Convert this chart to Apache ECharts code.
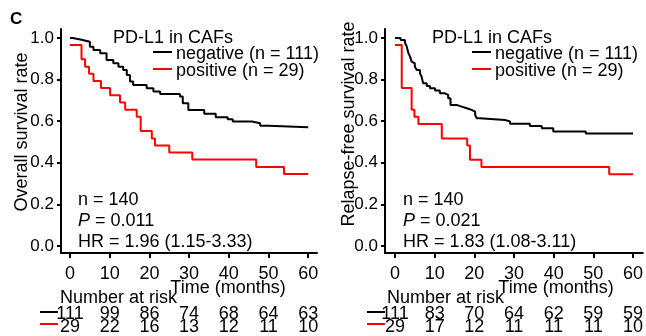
<!DOCTYPE html>
<html lang="en">
<head>
    <meta charset="utf-8" />
    <title>PD-L1 in CAFs KM</title>
    <script src="https://cdn.jsdelivr.net/npm/echarts@6/dist/echarts.min.js"></script>
    <style>
        html, body { margin: 0; padding: 0; background: #fff; }
        #chartmain { width: 646px; height: 336px; }
    </style>
</head>
<body>
<div id="chartmain"></div>
<script>
// time points shown on the x axis
var ticksX = [0, 10, 20, 30, 40, 50, 60];
var ticksY = [0, 0.2, 0.4, 0.6, 0.8, 1.0];

// overall survival, negative group [months, survival]
var osNeg = [[0,1.0],[0.7,0.991],[2.9,0.982],[5.0,0.958],[5.9,0.942],[7.6,0.926],[9.2,0.894],[10.9,0.878],
    [12.2,0.862],[13.4,0.846],[14.3,0.822],[15.1,0.79],[15.9,0.774],[19.3,0.758],[21.0,0.742],[22.7,0.731],
    [27.7,0.718],[28.4,0.686],[29.8,0.654],[33.8,0.635],[36.7,0.619],[39.7,0.609],[41.0,0.598],[45.8,0.59],
    [47.9,0.578],[50.0,0.571],[60,0.571]];
// overall survival, positive group
var osPos = [[0,0.966],[2.9,0.897],[3.8,0.862],[4.8,0.828],[5.9,0.793],[7.8,0.759],[10.1,0.724],[12.6,0.69],
    [13.9,0.655],[16.8,0.621],[17.8,0.552],[20.6,0.517],[21.4,0.483],[25.0,0.449],[30.8,0.415],[46.9,0.38],
    [53.9,0.346],[60,0.346]];
// relapse-free survival, negative group
var rfsNeg = [[0,1.0],[1.4,0.99],[2.5,0.977],[2.9,0.962],[3.4,0.926],[3.8,0.91],[4.2,0.886],[4.6,0.878],
    [5.0,0.862],[5.5,0.846],[6.3,0.83],[6.7,0.814],[7.1,0.782],[8.0,0.769],[8.8,0.758],[10.1,0.747],
    [11.3,0.734],[12.6,0.726],[13.4,0.71],[14.0,0.678],[15.5,0.67],[16.8,0.662],[18.1,0.654],[19.3,0.646],
    [20.2,0.63],[20.6,0.614],[21.4,0.606],[27.7,0.598],[29.0,0.587],[34.0,0.577],[37.0,0.566],[39.9,0.55],
    [48.1,0.54],[60,0.54]];
// relapse-free survival, positive group
var rfsPos = [[0,0.966],[1.7,0.759],[4.2,0.655],[4.9,0.621],[5.9,0.586],[11.8,0.517],[18.2,0.483],
    [18.9,0.414],[21.8,0.38],[54.0,0.345],[60,0.345]];

// number at risk tables
var osRiskNeg = [111, 99, 86, 74, 68, 64, 63];
var osRiskPos = [29, 22, 16, 13, 12, 11, 10];
var rfsRiskNeg = [111, 83, 70, 64, 62, 59, 59];
var rfsRiskPos = [29, 17, 12, 11, 11, 11, 10];

var FONT = 'Liberation Sans';
var panels = [
    { left: 61, width: 256, xmin: -2.27, xmax: 62.21, yname: 'Overall survival rate', nameX: 22.5, nameY: 132,
      neg: osNeg, pos: osPos, rNeg: osRiskNeg, rPos: osRiskPos, p: '0.011', hr: '1.96 (1.15-3.33)',
      lg: 0, an: 0, tm: 0, nr: 0 },
    { left: 385, width: 258, xmin: -2.52, xmax: 62.47, yname: 'Relapse-free survival rate', nameX: 349.5, nameY: 124,
      neg: rfsNeg, pos: rfsPos, rNeg: rfsRiskNeg, rPos: rfsRiskPos, p: '0.021', hr: '1.83 (1.08-3.11)',
      lg: 319, an: 325, tm: 328, nr: 327 }
];

function txt(x, y, s, extra) {
    var st = { x: x, y: y, text: s, fill: '#000', font: '18px "' + FONT + '"', textVerticalAlign: 'middle' };
    for (var k in extra) st[k] = extra[k];
    return { type: 'text', style: st, z: 10 };
}
function seg(x1, y1, x2, y2, c) {
    return { type: 'line', shape: { x1: x1, y1: y1, x2: x2, y2: y2 }, style: { stroke: c, lineWidth: 2 }, z: 10 };
}

var grids = [], xAxes = [], yAxes = [], series = [], graphics = [];
panels.forEach(function (pn, i) {
    grids.push({ left: pn.left, top: 29, width: pn.width, height: 224 });
    xAxes.push({
        gridIndex: i, type: 'value', min: pn.xmin, max: pn.xmax,
        axisLine: { onZero: false, lineStyle: { color: '#000', width: 2 } },
        axisTick: { customValues: ticksX, length: 5, lineStyle: { color: '#000', width: 2 } },
        axisLabel: { customValues: ticksX, color: '#000', fontSize: 18, fontFamily: FONT, margin: 12 },
        splitLine: { show: false }
    });
    [pn.rNeg, pn.rPos].forEach(function (arr, j) {
        xAxes.push({
            gridIndex: i, type: 'value', min: pn.xmin, max: pn.xmax, position: 'bottom', offset: 52 + j * 13,
            axisLine: { show: false }, axisTick: { show: false }, splitLine: { show: false },
            axisLabel: { customValues: ticksX, color: '#000', fontSize: 18, fontFamily: FONT, margin: 0,
                formatter: function (v) { return String(arr[ticksX.indexOf(v)]); } }
        });
    });
    yAxes.push({
        gridIndex: i, type: 'value', min: -0.034, max: 1.043,
        axisLine: { onZero: false, lineStyle: { color: '#000', width: 2 } },
        axisTick: { customValues: ticksY, length: 4, lineStyle: { color: '#000', width: 2 } },
        axisLabel: { customValues: ticksY, color: '#000', fontSize: 17, fontFamily: FONT, margin: 7,
            formatter: function (v) { return v.toFixed(1); } },
        splitLine: { show: false }
    });
    series.push({ type: 'line', xAxisIndex: i * 3, yAxisIndex: i, data: pn.neg, step: 'end', symbol: 'none',
        lineStyle: { color: '#000', width: 2 }, z: 3 });
    series.push({ type: 'line', xAxisIndex: i * 3, yAxisIndex: i, data: pn.pos, step: 'end', symbol: 'none',
        lineStyle: { color: '#ff0000', width: 2 }, z: 2 });

    graphics.push({ type: 'text', x: pn.nameX, y: pn.nameY, rotation: Math.PI / 2, z: 10,
        style: { text: pn.yname, fill: '#000', font: '18px "' + FONT + '"', textAlign: 'center', textVerticalAlign: 'middle' } });
    var d = pn.lg;
    graphics.push(txt(113 + d, 38, 'PD-L1 in CAFs'));
    graphics.push(seg(153 + d, 52, 172 + d, 52, '#000'));
    graphics.push(txt(176 + d, 54, 'negative (n = 111)'));
    graphics.push(seg(153 + d, 69, 172 + d, 69, '#ff0000'));
    graphics.push(txt(176 + d, 71, 'positive (n = 29)'));
    d = pn.an;
    graphics.push(txt(78 + d, 200, 'n = 140'));
    graphics.push({ type: 'text', z: 10, style: { x: 78 + d, y: 221, textVerticalAlign: 'middle',
        rich: { i: { fontStyle: 'italic', fontSize: 18, fontFamily: FONT, fill: '#000' },
                n: { fontSize: 18, fontFamily: FONT, fill: '#000' } },
        text: '{i|P}{n| = ' + pn.p + '}' } });
    graphics.push(txt(78 + d, 242, 'HR = ' + pn.hr));
    graphics.push(txt(228 + pn.tm, 288, 'Time (months)', { textAlign: 'center' }));
    d = pn.nr;
    graphics.push(txt(60 + d, 298, 'Number at risk'));
    graphics.push(seg(40 + d, 312, 58 + d, 312, '#000'));
    graphics.push(seg(40 + d, 324, 58 + d, 324, '#ff0000'));
});
graphics.push({ type: 'text', z: 10, style: { x: 10, y: 19, text: 'C', fill: '#000',
    font: 'bold 17px "' + FONT + '"', textVerticalAlign: 'middle' } });

var chart = echarts.init(document.getElementById('chartmain'));
chart.setOption({
    animation: false,
    backgroundColor: '#fff',
    grid: grids, xAxis: xAxes, yAxis: yAxes, series: series, graphic: graphics
});
</script>
</body>
</html>
